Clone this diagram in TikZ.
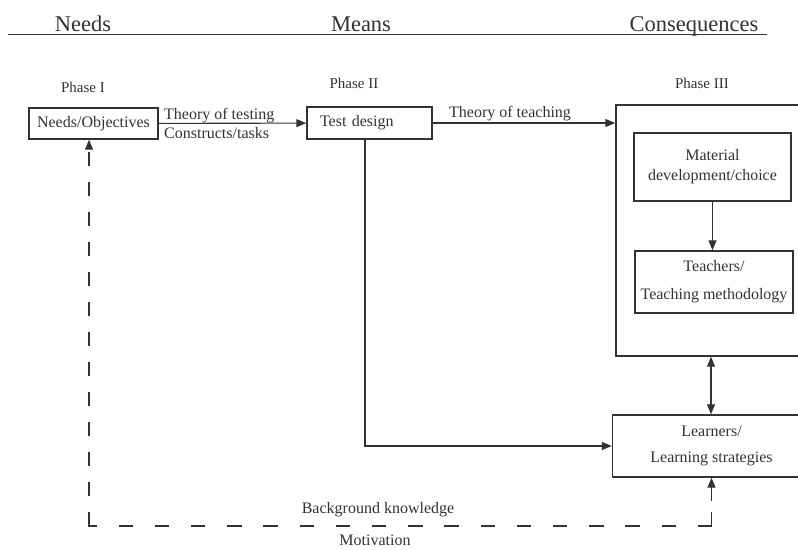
\documentclass[tikz,border=0pt]{standalone}
\usepackage{fontspec}
\setmainfont{Liberation Serif}
\usetikzlibrary{arrows.meta}
\definecolor{ink}{HTML}{333333}
\begin{document}
\begin{tikzpicture}[x=1pt,y=-1pt,
  every node/.style={text=ink},
  txt/.style={font=\fontsize{16}{20}\selectfont, inner sep=0pt},
  head/.style={font=\fontsize{22.5}{26}\selectfont, inner sep=0pt},
  phase/.style={font=\fontsize{15}{18}\selectfont, inner sep=0pt},
  box/.style={draw=ink, line width=1.4pt, font=\fontsize{16}{20}\selectfont, align=center, inner sep=0pt},
  link/.style={draw=ink, line width=1.1pt},
  tip/.style={-{Triangle[length=10pt,width=8pt]}},
  bothtips/.style={{Triangle[length=10pt,width=8pt]}-{Triangle[length=10pt,width=8pt]}},
  feedback/.style={draw=ink, line width=1.3pt}]
\useasboundingbox (0,0) rectangle (798,549);
\clip (0,0) rectangle (798,549);
\fill[white] (0,0) rectangle (798,549);

% column headings and rule
\node[head, anchor=base] (hn) at (83,31) {Needs};
\node[head, anchor=base] (hm) at (361,31) {Means};
\node[head, anchor=base] (hc) at (694,31) {Consequences};
\draw[link] (8,34.5) -- (767,34.5);

% phase labels
\node[phase, anchor=base] (ph1) at (83,92) {Phase I};
\node[phase, anchor=base] (ph2) at (354,88) {Phase II};
\node[phase, anchor=base] (ph3) at (702,88) {Phase III};

% boxes
\node[box, minimum width=129, minimum height=31] (no) at (93.5,123.5) {Needs/Objectives};
\node[box, text width=99, inner xsep=13, minimum height=32, align=left] (td) at (369.5,123) {Test design};
\node[draw=ink, line width=1.4pt, minimum width=190, minimum height=251, inner sep=0pt] (p3) at (711,230.5) {};
\node[box, minimum width=157, minimum height=68] (mat) at (712.5,167) {Material\\development/choice};
\node[box, minimum width=158, minimum height=62] (tch) at (714,282) {Teachers/\\[8pt]Teaching methodology};
\node[box, minimum width=198, minimum height=62] (lrn) at (711.5,446) {Learners/\\[6pt]Learning strategies};

% connectors
\draw[link, tip] (no) -- (td);
\node[txt, anchor=base west] (tt) at (164,119) {Theory of testing};
\node[txt, anchor=base west] (ct) at (164,138) {Constructs/tasks};
\draw[link, tip] (td.east) -- (td.east -| p3.west);
\node[txt, anchor=base west] (tth) at (449,117) {Theory of teaching};
\draw[link, tip] (mat) -- (mat |- tch.north);
\draw[link, bothtips] (p3.south) -- (p3.south |- lrn.north);
\draw[link, tip] ([xshift=-4.5pt]td.south) |- (lrn.west);

% dashed feedback loop
\coordinate (lc) at (89,526);
\coordinate (rc) at (lrn.south |- lc);
\draw[feedback, dash pattern=on 14pt off 16pt, tip] (lc) -- (lc |- no.south);
\draw[feedback, dash pattern=on 13pt off 23.2pt, line cap=rect] (rc) -- (lc);
\draw[feedback, dash pattern=on 14pt off 11pt on 60pt off 1pt, tip] (rc) -- (lrn.south);
\node[txt, anchor=base] (bk) at (378,513) {Background knowledge};
\node[txt, anchor=base] (mv) at (375,545) {Motivation};
\end{tikzpicture}
\end{document}
